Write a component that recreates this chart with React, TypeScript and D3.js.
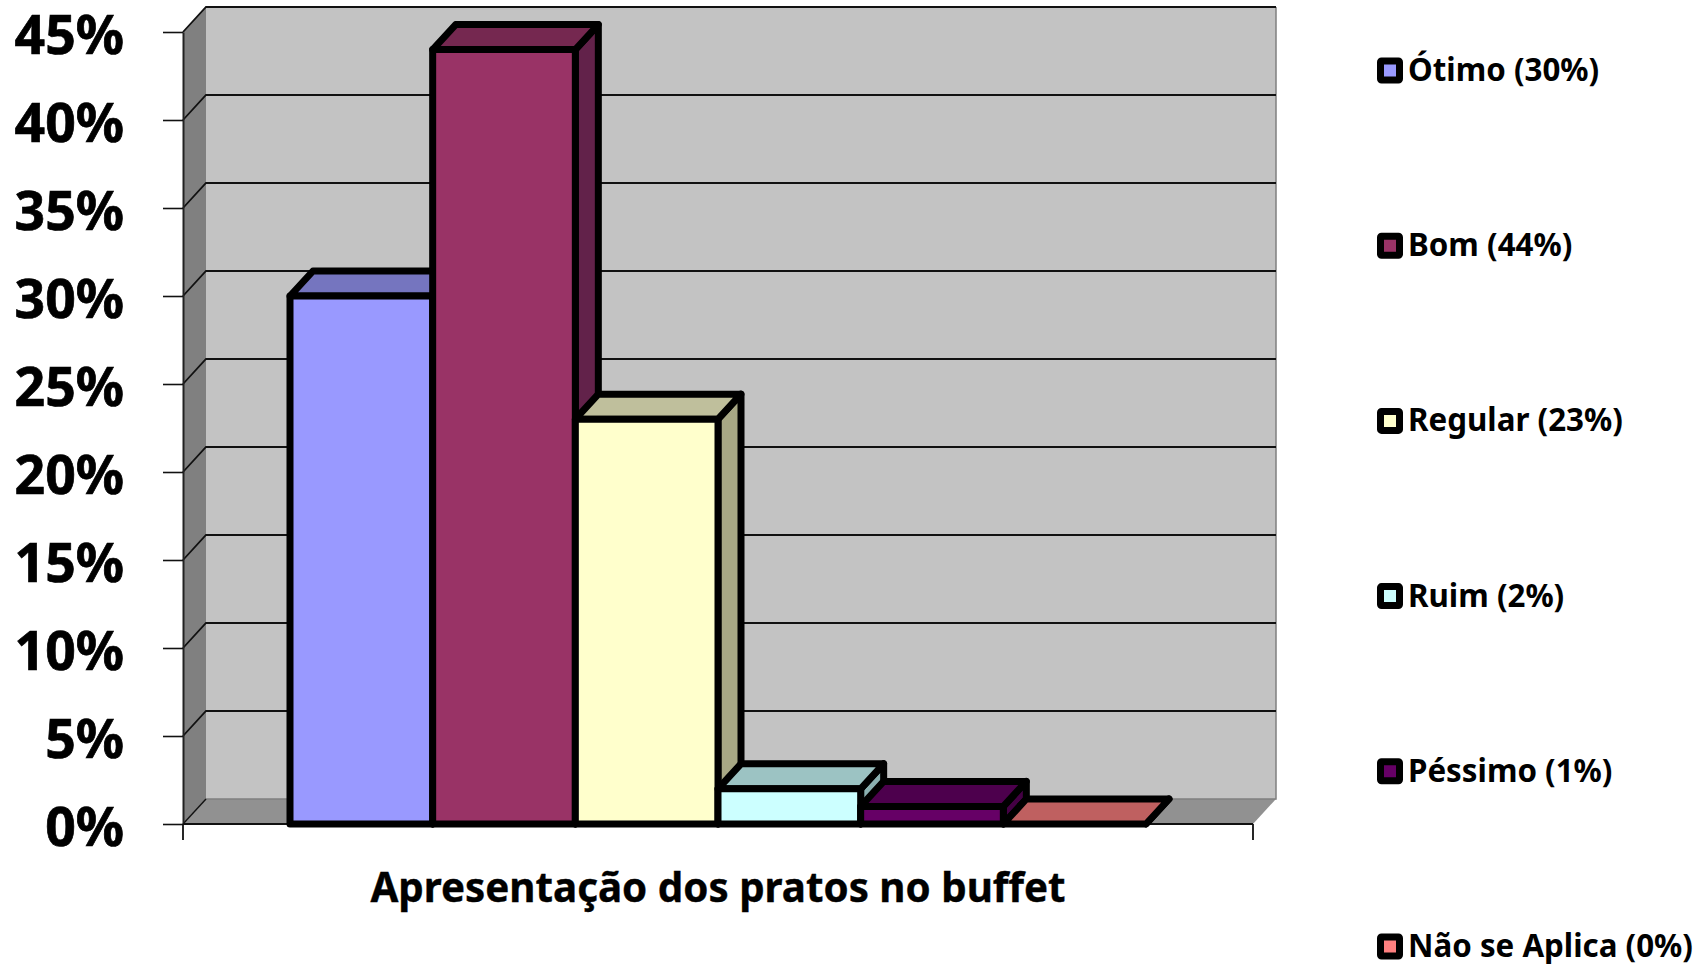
import React, { useEffect, useRef } from 'react';
import * as d3 from 'd3';

const categories = ['Ótimo (30%)', 'Bom (44%)', 'Regular (23%)', 'Ruim (2%)', 'Péssimo (1%)', 'Não se Aplica (0%)'];
const values = [30, 44, 23, 2, 1, 0];
const frontColors = ['#9999FF', '#993366', '#FFFFCC', '#CCFFFF', '#660066', '#FF8080'];
const topColors = ['#7575BF', '#752850', '#BFBF9C', '#9CC3C3', '#4D004D', '#BF6060'];
const sideColors = ['#5F5F9F', '#62224A', '#A8A885', '#8BB0B0', '#440044', '#A85555'];
const yTicks = [0, 5, 10, 15, 20, 25, 30, 35, 40, 45];
const xTitle = 'Apresentação dos pratos no buffet';

const width = 1705;
const height = 964;
const left = 183;
const right = 1253;
const bottom = 824;
const top = 32;
const depthX = 23;
const depthY = 25;
const font = '"Noto Sans", sans-serif';

export default function App() {
  const ref = useRef<SVGSVGElement>(null);

  useEffect(() => {
    const svg = d3.select(ref.current);
    svg.selectAll('*').remove();

    const y = d3.scaleLinear().domain([0, 45]).range([bottom, top]);
    const x = d3.scaleBand().domain(categories).range([left, right]).paddingOuter(0.75).paddingInner(0);
    const poly = (pts: number[][]) => d3.line()(pts as [number, number][]) + 'Z';

    // side wall, floor and back wall
    svg.append('path')
      .attr('d', poly([[left, bottom], [left, top], [left + depthX, top - depthY], [left + depthX, bottom - depthY]]))
      .attr('fill', '#808080');
    svg.append('path')
      .attr('d', poly([[left, bottom], [right, bottom], [right + depthX, bottom - depthY], [left + depthX, bottom - depthY]]))
      .attr('fill', '#919191');
    svg.append('rect')
      .attr('x', left + depthX)
      .attr('y', top - depthY)
      .attr('width', right - left)
      .attr('height', bottom - top)
      .attr('fill', '#C3C3C3');
    svg.append('path')
      .attr('d', `M${left + depthX},${bottom - depthY}H${right + depthX}V${top - depthY}`)
      .attr('fill', 'none')
      .attr('stroke', '#808080')
      .attr('stroke-width', 1.5);

    // gridlines wrap the side wall and the back wall
    svg.append('g')
      .selectAll('path')
      .data(yTicks.filter(d => d > 0))
      .join('path')
      .attr('d', d => `M${left},${y(d)}L${left + depthX},${y(d) - depthY}H${right + depthX}`)
      .attr('fill', 'none')
      .attr('stroke', '#111')
      .attr('stroke-width', 1.8);
    svg.append('path')
      .attr('d', `M${left},${bottom}L${left + depthX},${bottom - depthY}`)
      .attr('stroke', '#111')
      .attr('stroke-width', 1.4);

    // axes
    const yAxis = svg.append('g')
      .attr('transform', `translate(${left},0)`)
      .call(d3.axisLeft(y).tickValues(yTicks).tickSize(20).tickSizeOuter(0).tickPadding(39).tickFormat(d => `${d}%`));
    yAxis.select('.domain').attr('stroke', '#222').attr('stroke-width', 2);
    yAxis.selectAll('.tick line').attr('stroke', '#111').attr('stroke-width', 1.6);
    yAxis.selectAll('text')
      .attr('font-family', font)
      .attr('font-weight', 700)
      .attr('font-size', 53.5)
      .attr('dy', '0.4em')
      .attr('fill', '#000')
      .attr('stroke', '#000')
      .attr('stroke-width', 0.7);

    svg.append('path')
      .attr('d', `M${left},${bottom}H${right}M${left},${bottom}V${bottom + 16}M${right},${bottom}V${bottom + 16}`)
      .attr('fill', 'none')
      .attr('stroke', '#111')
      .attr('stroke-width', 1.8);

    // bars, left to right so each front covers the previous side
    const bars = svg.append('g')
      .attr('stroke', '#000')
      .attr('stroke-width', 7)
      .attr('stroke-linejoin', 'round')
      .selectAll('g')
      .data(categories)
      .join('g');
    bars.append('path')
      .attr('d', (d, i) => {
        const x1 = (x(d) as number) + x.bandwidth();
        const y1 = y(values[i]);
        return poly([[x1, y1], [x1 + depthX, y1 - depthY], [x1 + depthX, bottom - depthY], [x1, bottom]]);
      })
      .attr('fill', (d, i) => sideColors[i]);
    bars.append('path')
      .attr('d', (d, i) => {
        const x0 = x(d) as number;
        const x1 = x0 + x.bandwidth();
        const y1 = y(values[i]);
        return poly([[x0, y1], [x0 + depthX, y1 - depthY], [x1 + depthX, y1 - depthY], [x1, y1]]);
      })
      .attr('fill', (d, i) => topColors[i]);
    bars.append('rect')
      .attr('x', d => x(d) as number)
      .attr('y', (d, i) => y(values[i]))
      .attr('width', x.bandwidth())
      .attr('height', (d, i) => bottom - y(values[i]))
      .attr('fill', (d, i) => frontColors[i]);

    svg.append('text')
      .attr('x', (left + right) / 2)
      .attr('y', 902)
      .attr('text-anchor', 'middle')
      .attr('font-family', font)
      .attr('font-weight', 700)
      .attr('font-size', 40.3)
      .attr('stroke', '#000')
      .attr('stroke-width', 0.4)
      .text(xTitle);

    // legend
    const legendY = d3.scalePoint().domain(categories).range([70.5, 946.5]);
    const items = svg.append('g')
      .selectAll('g')
      .data(categories)
      .join('g')
      .attr('transform', d => `translate(1390,${legendY(d)})`);
    items.append('rect')
      .attr('x', -9.5)
      .attr('y', -9.5)
      .attr('width', 19)
      .attr('height', 19)
      .attr('rx', 1)
      .attr('fill', (d, i) => frontColors[i])
      .attr('stroke', '#000')
      .attr('stroke-width', 7)
      .attr('stroke-linejoin', 'round');
    items.append('text')
      .attr('x', 18)
      .attr('y', 10.5)
      .attr('font-family', font)
      .attr('font-weight', 700)
      .attr('font-size', 31.3)
      .text(d => d);
  }, []);

  return (
    <svg
      ref={ref}
      width={width}
      height={height}
      style={{ position: 'absolute', left: 0, top: 0, background: '#fff' }}
    />
  );
}
